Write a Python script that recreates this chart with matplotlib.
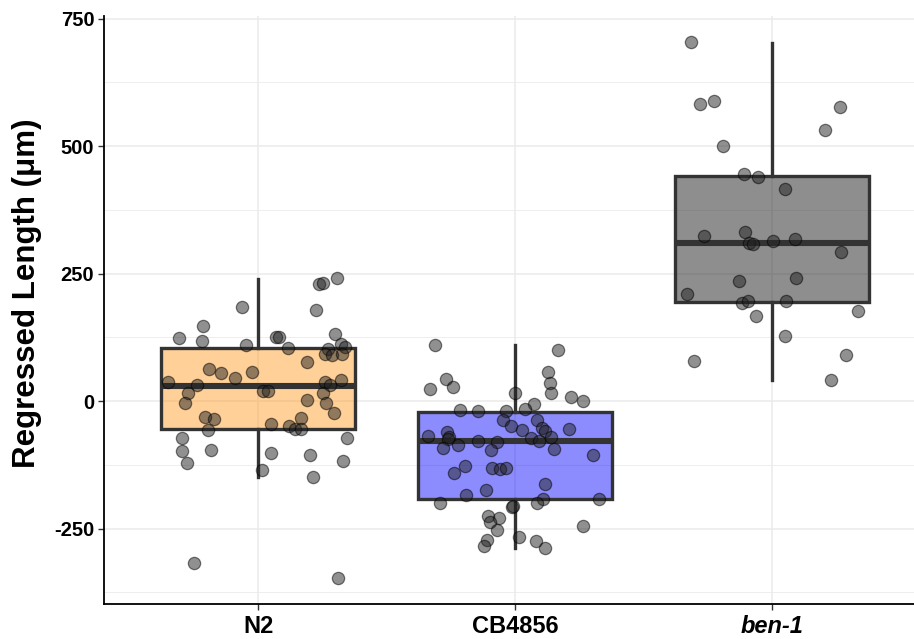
import matplotlib
matplotlib.use("Agg")
import matplotlib.pyplot as plt
from matplotlib.ticker import MultipleLocator

plt.rcParams["font.family"] = ["Liberation Sans", "DejaVu Sans"]
plt.rcParams["axes.unicode_minus"] = False

strains = ["N2", "CB4856", "ben-1"]

# box summaries
q1 = [-55.0, -192.7, 194.7]
med = [29.4, -78.4, 309.0]
q3 = [104.5, -21.0, 441.8]
whislo = [-148.0, -288.0, 41.0]
whishi = [240.0, 109.0, 702.0]

# jittered points: horizontal offset from the category centre, and value
n2_dx = [0.307, 0.236, 0.250, -0.065, 0.224, -0.217, -0.311, -0.221, -0.049, 0.068,
         0.081, 0.298, 0.115, 0.270, 0.320, 0.338, 0.260, 0.288, 0.325, 0.188,
         -0.193, -0.147, -0.093, -0.025, -0.352, -0.241, 0.259, 0.323, 0.279, -0.274,
         0.016, 0.036, 0.250, -0.286, 0.188, 0.263, -0.207, -0.172, 0.295, 0.167,
         0.049, 0.118, 0.141, 0.167, -0.197, -0.298, 0.344, -0.298, -0.186, 0.049,
         0.201, -0.277, 0.330, 0.014, 0.211, -0.253, 0.309]
n2_y = [240.6, 229.4, 230.8, 183.7, 179.0, 147.1, 123.5, 117.1, 110.4, 126.1,
        126.1, 132.0, 104.5, 102.0, 111.8, 106.5, 92.7, 90.2, 91.6, 76.5,
        62.2, 55.5, 45.7, 56.9, 36.7, 30.8, 37.8, 41.2, 30.8, 16.3,
        19.6, 19.6, 16.3, -3.3, 1.4, -3.3, -30.8, -35.9, -24.1, -33.9,
        -45.1, -48.4, -54.3, -55.5, -57.5, -72.0, -72.0, -97.5, -96.1, -101.4,
        -105.3, -122.2, -117.6, -135.9, -148.4, -317.1, -347.1]

cb_dx = [-0.313, 0.169, -0.270, -0.330, -0.240, 0.129, 0.135, 0.139, -0.002, 0.217,
         0.264, 0.073, 0.039, -0.216, -0.144, -0.037, -0.047, -0.014, 0.029, 0.086,
         0.104, 0.116, 0.209, -0.266, -0.339, -0.256, -0.262, -0.143, -0.069, 0.064,
         0.094, 0.140, -0.222, -0.282, -0.094, 0.152, 0.303, -0.196, -0.236, -0.090,
         -0.057, -0.034, 0.117, -0.115, -0.192, 0.329, -0.293, 0.109, 0.087, -0.012,
         -0.009, -0.104, -0.062, -0.096, -0.071, 0.265, 0.017, -0.111, -0.121, 0.080,
         0.116]
cb_y = [109.8, 100.0, 42.5, 24.2, 26.8, 56.9, 36.0, 16.3, 15.0, 7.8,
        0.0, -6.5, -15.0, -17.0, -19.0, -19.6, -36.6, -49.0, -56.2, -36.6,
        -53.0, -58.0, -55.0, -60.0, -68.6, -70.0, -75.0, -79.0, -80.4, -72.0,
        -78.4, -71.0, -86.0, -92.8, -96.7, -93.5, -106.5, -127.5, -141.0, -131.0,
        -132.7, -131.0, -163.0, -174.0, -185.0, -191.5, -200.6, -192.7, -199.3, -208.5,
        -205.0, -226.0, -229.4, -238.0, -253.5, -244.5, -266.0, -272.5, -284.0, -274.5,
        -288.8]

ben_dx = [-0.313, -0.278, -0.224, 0.266, 0.207, -0.190, -0.108, -0.053, 0.052, -0.103,
          -0.265, 0.091, 0.004, -0.088, -0.072, 0.271, -0.126, 0.097, -0.331, -0.116,
          -0.091, 0.056, -0.062, 0.335, 0.051, -0.302, 0.291, 0.230]
ben_y = [703.3, 582.4, 588.8, 577.1, 530.8, 500.0, 445.7, 439.2, 415.7, 332.0,
         323.5, 318.2, 314.3, 310.4, 307.3, 292.2, 235.3, 241.8, 209.2, 191.6,
         196.7, 196.7, 167.3, 177.1, 127.5, 79.0, 89.6, 40.6]

fills = [(1.0, 0.6, 0.12, 0.46), (0.0, 0.0, 1.0, 0.45), (0.12, 0.12, 0.12, 0.5)]

fig = plt.figure(figsize=(9.14, 6.39), dpi=100)
ax = fig.add_axes([104 / 914, 35 / 639, 810 / 914, 588 / 639])

stats = []
for i, name in enumerate(strains):
    stats.append({"label": name, "q1": q1[i], "med": med[i], "q3": q3[i],
                  "whislo": whislo[i], "whishi": whishi[i], "fliers": []})

line = dict(color="#333333", linewidth=2.4)
bp = ax.bxp(stats, positions=[1, 2, 3], widths=0.756, patch_artist=True,
            showfliers=False, showcaps=False,
            boxprops=dict(edgecolor="#333333", linewidth=2.4),
            whiskerprops=line,
            medianprops=dict(color="#333333", linewidth=4.4, solid_capstyle="butt"),
            zorder=2)
for patch, fc in zip(bp["boxes"], fills):
    patch.set_facecolor(fc)

for i, (dx, ys) in enumerate([(n2_dx, n2_y), (cb_dx, cb_y), (ben_dx, ben_y)]):
    xs = [i + 1 + d for d in dx]
    ax.scatter(xs, ys, s=78, facecolor="#222222", edgecolor="black",
               linewidths=0.9, alpha=0.5, zorder=3)

ax.set_xlim(0.398, 3.555)
ax.set_ylim(-398, 755)
ax.yaxis.set_major_locator(MultipleLocator(250))
ax.yaxis.set_minor_locator(MultipleLocator(125))
ax.set_xticks([1, 2, 3])
ax.set_xticklabels(strains)
ax.get_xticklabels()[2].set_style("italic")

ax.grid(True, which="major", color="#EBEBEB", linewidth=1.1, zorder=0)
ax.grid(True, which="minor", axis="y", color="#EBEBEB", linewidth=0.6, zorder=0)
ax.set_axisbelow(True)

for side in ["top", "right"]:
    ax.spines[side].set_visible(False)
for side in ["left", "bottom"]:
    ax.spines[side].set_color("black")
    ax.spines[side].set_linewidth(1.3)

ax.tick_params(axis="both", which="major", length=4, width=1.0, color="#333333")
ax.tick_params(axis="y", which="minor", length=0)
ax.tick_params(axis="y", labelsize=14.5, pad=3)
ax.tick_params(axis="x", labelsize=17, pad=4)
for lab in ax.get_xticklabels() + ax.get_yticklabels():
    lab.set_fontweight("bold")
    lab.set_color("black")

ax.set_ylabel("Regressed Length (μm)", fontsize=22.5, fontweight="bold")
ax.yaxis.set_label_coords(-0.0765, 0.529)

fig.savefig("out.png", dpi=100)
